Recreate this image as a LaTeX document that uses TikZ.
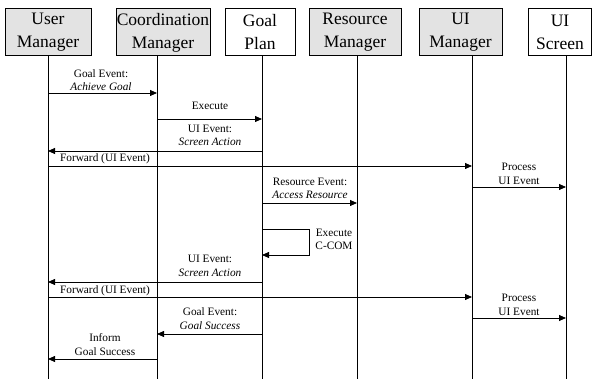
\documentclass[tikz,border=0pt]{standalone}
\usepackage{fontspec}
\setmainfont{Liberation Serif}
\usetikzlibrary{arrows.meta}
\begin{document}
\begin{tikzpicture}[x=1pt,y=-1pt,
  actor/.style={draw, line width=0.8pt, minimum height=47pt, inner sep=0pt, align=center,
    font=\fontsize{17.5}{23}\selectfont, anchor=north},
  grayactor/.style={actor, fill=gray!22},
  whiteactor/.style={actor, fill=white},
  life/.style={line width=0.8pt},
  msg/.style={line width=0.8pt, -{Triangle[length=7pt,width=6pt]}},
  plain/.style={line width=0.8pt},
  lbl/.style={font=\fontsize{11.3}{13.5}\selectfont, align=center, inner sep=0pt}]
\useasboundingbox (0,0) rectangle (592,379);
% actors
\node[grayactor, minimum width=86pt] (um) at (48,8.5) {User\\Manager};
\node[grayactor, minimum width=94pt] (cm) at (163,8.5) {Coordination\\Manager};
\node[whiteactor, minimum width=70pt] (gp) at (260,8.5) {Goal\\Plan};
\node[grayactor, minimum width=92pt] (rm) at (355,8.5) {Resource\\Manager};
\node[grayactor, minimum width=83pt] (uim) at (460.5,8.5) {UI\\Manager};
\node[whiteactor, minimum width=62.5pt] (uis) at (560,8.5) {UI\\Screen};
% lifeline bottoms
\coordinate (umB) at (48,379);
\coordinate (cmB) at (157,379);
\coordinate (gpB) at (262,379);
\coordinate (rmB) at (357,379);
\coordinate (uimB) at (472,379);
\coordinate (uisB) at (566,379);
\draw[life] (um.south -| umB) -- (umB);
\draw[life] (cm.south -| cmB) -- (cmB);
\draw[life] (gp.south -| gpB) -- (gpB);
\draw[life] (rm.south -| rmB) -- (rmB);
\draw[life] (uim.south -| uimB) -- (uimB);
\draw[life] (uis.south -| uisB) -- (uisB);
% message points
\coordinate (m1a) at (48,93);   \coordinate (m1b) at (157,93);
\coordinate (m2a) at (157,119); \coordinate (m2b) at (262,119);
\coordinate (m3a) at (262,151); \coordinate (m3b) at (48,151);
\coordinate (m4a) at (48,166);  \coordinate (m4b) at (472,166);
\coordinate (m5a) at (472,187); \coordinate (m5b) at (566,187);
\coordinate (m6a) at (262,203); \coordinate (m6b) at (357,203);
\coordinate (m7a) at (262,229); \coordinate (m7c) at (309,229);
\coordinate (m7d) at (309,255); \coordinate (m7b) at (262,255);
\coordinate (m8a) at (262,282); \coordinate (m8b) at (48,282);
\coordinate (m9a) at (48,297);  \coordinate (m9b) at (472,297);
\coordinate (m10a) at (472,318); \coordinate (m10b) at (566,318);
\coordinate (m11a) at (262,334); \coordinate (m11b) at (157,334);
\coordinate (m12a) at (157,359); \coordinate (m12b) at (48,359);
% arrows
\draw[msg] (m1a) -- (m1b);
\draw[msg] (m2a) -- (m2b);
\draw[msg] (m3a) -- (m3b);
\draw[msg] (m4a) -- (m4b);
\draw[msg] (m5a) -- (m5b);
\draw[msg] (m6a) -- (m6b);
\draw[msg] (m7a) -- (m7c) -- (m7d) -- (m7b);
\draw[msg] (m8a) -- (m8b);
\draw[msg] (m9a) -- (m9b);
\draw[msg] (m10a) -- (m10b);
\draw[msg] (m11a) -- (m11b);
\draw[msg] (m12a) -- (m12b);
% labels
\node[lbl] (l1) at (101,80) {Goal Event:\\\textit{Achieve Goal}};
\node[lbl] (l2) at (210,106) {Execute};
\node[lbl] (l3) at (210,135.5) {UI Event:\\\textit{Screen Action}};
\node[lbl, anchor=base] (l4) at (105,162) {Forward (UI Event)};
\node[lbl] (l5) at (519,174) {Process\\UI Event};
\node[lbl] (l6) at (310,188.5) {Resource Event:\\\textit{Access Resource}};
\node[lbl] (l7) at (334,239.5) {Execute\\C-COM};
\node[lbl] (l8) at (210,266) {UI Event:\\\textit{Screen Action}};
\node[lbl, anchor=base] (l9) at (105,293.5) {Forward (UI Event)};
\node[lbl] (l10) at (519,305) {Process\\UI Event};
\node[lbl] (l11) at (210,318.5) {Goal Event:\\\textit{Goal Success}};
\node[lbl] (l12) at (105,344.5) {Inform\\Goal Success};
\end{tikzpicture}
\end{document}
